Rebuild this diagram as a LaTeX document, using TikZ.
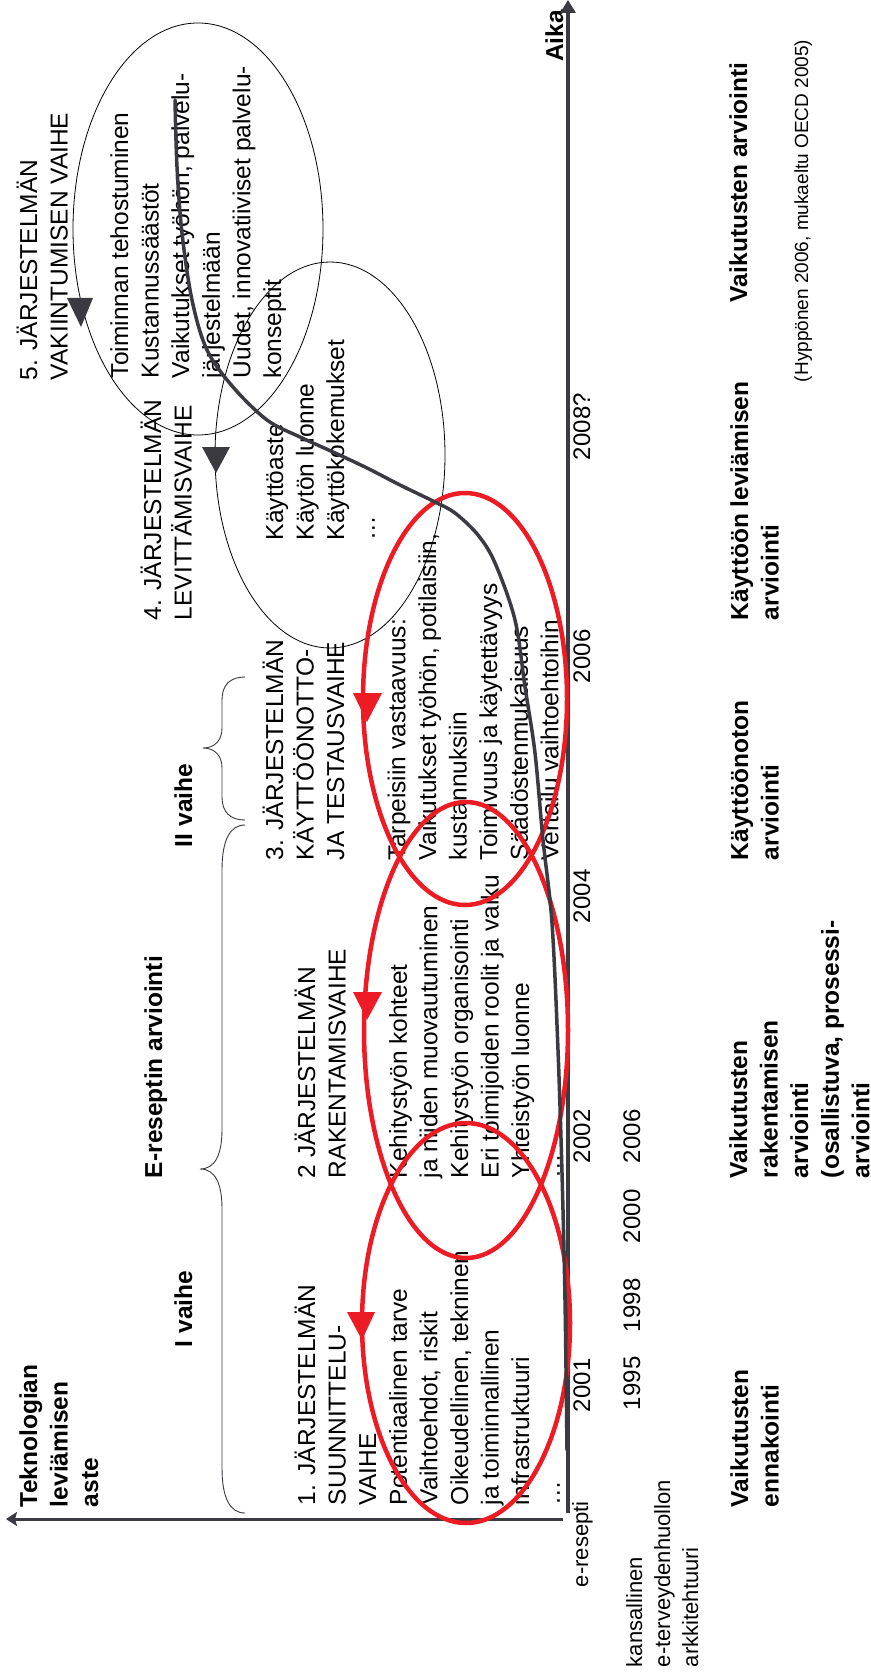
\documentclass[tikz,border=0pt]{standalone}
\usepackage{fontspec}
\setmainfont{Liberation Sans}
\usetikzlibrary{arrows.meta}
\definecolor{axisgray}{RGB}{58,58,64}
\definecolor{cyclered}{RGB}{237,28,36}
\tikzset{
  vtext/.style={rotate=90, anchor=base west, inner sep=0pt, outer sep=0pt, align=left, font=\fontsize{24.5}{30.6}\selectfont},
  vbold/.style={vtext, font=\fontsize{24.5}{30.6}\selectfont\bfseries},
  vyear/.style={vtext, font=\fontsize{24}{30}\selectfont},
  vsmall/.style={vtext, font=\fontsize{22}{28}\selectfont},
  vref/.style={vtext, font=\fontsize{19}{23}\selectfont},
  thinoval/.style={draw=black, line width=0.8pt},
  redoval/.style={draw=cyclered, line width=4.5pt},
  redtip/.style={fill=cyclered},
  graytip/.style={fill=axisgray},
  bracepath/.style={draw=axisgray, line width=0.9pt},
  scurve/.style={draw=axisgray, line width=3.5pt, line cap=round},
  timeaxis/.style={draw=axisgray, line width=4.5pt},
  levelaxis/.style={draw=axisgray, line width=3pt}
}
\begin{document}
\begin{tikzpicture}[x=1pt,y=-1pt]
\useasboundingbox (0,0) rectangle (870,1677);
% ---------- texts (multi-line nodes: x = baseline of the LAST line) ----------
\node[vbold] (tek) at (98.2,1507) {Teknologian\\leviämisen\\aste};
\node[vbold] (ivaihe) at (192,1347) {I vaihe};
\node[vbold] (iivaihe) at (192,847) {II vaihe};
\node[vbold] (erec) at (162,1178) {E-reseptin arviointi};
\node[vbold] (aika) at (563,62) {Aika};

\node[vtext] (s1) at (559.8,1505) {1. JÄRJESTELMÄN\\SUUNNITTELU-\\VAIHE\\Potentiaalinen tarve\\Vaihtoehdot, riskit\\Oikeudellinen, tekninen\\ja toiminnallinen\\infrastruktuuri\\…};
\node[vtext] (s2) at (559.8,1178) {2 JÄRJESTELMÄN\\RAKENTAMISVAIHE\\ \mbox{}\\Kehitystyön kohteet\\ja niiden muovautuminen\\Kehitystyön organisointi\\Eri toimijoiden roolit ja vaiku\\Yhteistyön luonne\\…};
\node[vtext] (s3) at (558.4,860) {3. JÄRJESTELMÄN\\KÄYTTÖÖNOTTO-\\JA TESTAUSVAIHE\\ \mbox{}\\Tarpeisiin vastaavuus:\\Vaikutukset työhön, potilaisiin,\\kustannuksiin\\Toimivuus ja käytettävyys\\Säädöstenmukaisuus\\Vertailu vaihtoehtoihin};
\node[vtext] (s4h) at (191.6,620) {4. JÄRJESTELMÄN\\LEVITTÄMISVAIHE};
\node[vtext] (s4i) at (374.8,540) {Käyttöaste\\Käytön luonne\\Käyttökokemukset\\…};
\node[vtext] (s5h) at (67.6,380) {5. JÄRJESTELMÄN\\VAKIINTUMISEN VAIHE};
\node[vtext] (s5i) at (281,378) {Toiminnan tehostuminen\\Kustannussäästöt\\Vaikutukset työhön, palvelu-\\järjestelmään\\Uudet, innovatiiviset palvelu-\\konseptit};

% years
\node[vsmall] (eres) at (588,1587) {e-resepti};
\node[vyear] (y2001) at (590,1412) {2001};
\node[vyear] (y2002) at (590,1163) {2002};
\node[vyear] (y2004) at (590,923) {2004};
\node[vyear] (y2006) at (590,683) {2006};
\node[vyear] (y2008) at (590,460) {2008?};
\node[vsmall] (kans) at (698,1667) {kansallinen\\e-terveydenhuollon\\arkkitehtuuri};
\node[vyear] (z1995) at (640,1410) {1995};
\node[vyear] (z1998) at (640,1332) {1998};
\node[vyear] (z2000) at (640,1243) {2000};
\node[vyear] (z2006) at (640,1163) {2006};

% evaluation labels
\node[vbold] (ev1) at (778.6,1507) {Vaikutusten\\ennakointi};
\node[vbold] (ev2) at (869.4,1178) {Vaikutusten\\rakentamisen\\arviointi\\(osallistuva, prosessi-\\arviointi};
\node[vbold] (ev3) at (778.6,860) {Käyttöönoton\\arviointi};
\node[vbold] (ev4) at (778.6,620) {Käyttöön leviämisen\\arviointi};
\node[vbold] (ev5) at (747,302) {Vaikutusten arviointi};
\node[vref] (src) at (808,382) {(Hyppönen 2006, mukaeltu OECD 2005)};

% ---------- braces ----------
\draw[bracepath] (245,825) .. controls (230,825) and (222,840) .. (222,870) -- (222,1129)
  .. controls (222,1155) and (215,1169) .. (200,1169)
  .. controls (215,1169) and (222,1183) .. (222,1209) -- (222,1468)
  .. controls (222,1498) and (230,1513) .. (245,1513);
\draw[bracepath] (245,677) .. controls (230,677) and (222,685) .. (222,700) -- (222,728)
  .. controls (222,740) and (215,748) .. (203,748)
  .. controls (215,748) and (222,756) .. (222,768) -- (222,797)
  .. controls (222,812) and (230,820) .. (245,820);

% ---------- axes ----------
\coordinate (tOrigin) at (568,1513);
\coordinate (tEnd) at (568,0);
\coordinate (lOrigin) at (563,1519);
\coordinate (lEnd) at (6,1519);
\draw[timeaxis, -{Triangle[length=13pt,width=15pt]}] (tOrigin) -- (tEnd);
\draw[levelaxis, -{Stealth[length=11pt,width=14pt,inset=2pt]}] (lOrigin) -- (lEnd);

% ---------- cycles ----------
\draw[thinoval] (198,229) ellipse [x radius=125pt, y radius=206pt];
\draw[thinoval] (330,455) ellipse [x radius=115pt, y radius=193pt];
\draw[redoval] (465,699) ellipse [x radius=102pt, y radius=206pt];
\draw[redoval] (466,1030) ellipse [x radius=102pt, y radius=228pt];
\draw[redoval] (466,1323) ellipse [x radius=104pt, y radius=200pt];

% ---------- S-curve ----------
\draw[scurve] plot[smooth, tension=0.55] coordinates {
 (567,1450) (565,1300) (562,1173) (558,1050) (552,923) (543,840) (535,753) (525,687)
 (515,620) (495,563) (478,535) (455,513) (435,502) (400,485) (367,468) (333,452)
 (300,437) (267,420) (233,387) (207,350) (192,300) (182,233) (177,167) (175,100)};

% ---------- arrowheads ----------
\fill[redtip] (353,693) -- (382,693) -- (367,722) -- cycle;
\fill[redtip] (353,992) -- (382,992) -- (367,1020) -- cycle;
\fill[redtip] (347,1312) -- (375,1312) -- (362,1340) -- cycle;
\fill[graytip] (67,298) -- (93,298) -- (81,327) -- cycle;
\fill[graytip] (202,447) -- (230,447) -- (216,473) -- cycle;
\end{tikzpicture}
\end{document}
